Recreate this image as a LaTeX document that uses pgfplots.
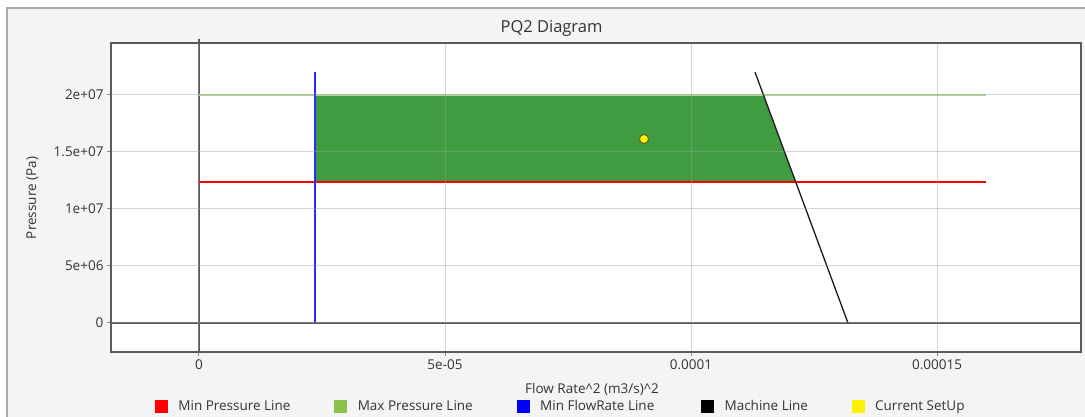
\documentclass[border=0pt]{standalone}
\usepackage{pgfplots}
\pgfplotsset{compat=1.18}
\usepackage{fontspec}
\setmainfont{Open Sans}

\definecolor{txt}{HTML}{333333}
\definecolor{bgcol}{HTML}{F4F4F4}
\definecolor{bordercol}{HTML}{ABABAB}
\definecolor{framecol}{HTML}{5A5A5A}
\definecolor{gridcol}{HTML}{A0A0A0}
\definecolor{tickcol}{HTML}{8A8A8A}
\definecolor{fillgreen}{HTML}{409C40}
\definecolor{maxgreen}{HTML}{8BC34A}
\definecolor{maxline}{HTML}{B4D49A}
\definecolor{minblue}{HTML}{2A2AFF}
\definecolor{machine}{HTML}{1A1A1A}
\definecolor{markedge}{HTML}{5E5E14}

\pgfplotsset{
  sq/.style={legend image code/.code={\fill[#1] (0pt,-6pt) rectangle (12pt,6pt);}},
}

\begin{document}
\begin{tikzpicture}[x=1pt,y=1pt]
\fill[bgcol] (-104,344) rectangle (990,-80);
\draw[bordercol, line width=2pt] (-104,-80) -- (-104,344) -- (990,344);

\begin{axis}[
  at={(0pt,0pt)}, anchor=south west,
  scale only axis, width=970pt, height=309pt,
  axis background/.style={fill=white},
  axis on top,
  xmin=-1.7886e-5, xmax=1.79268e-4,
  ymin=-2.544e6, ymax=2.456e7,
  xtick={0,5e-5,1e-4,1.5e-4},
  xticklabels={0,5e-05,0.0001,0.00015},
  ytick={0,5e6,1e7,1.5e7,2e7},
  yticklabels={0,5e+06,1e+07,1.5e+07,2e+07},
  scaled ticks=false,
  grid=major,
  major grid style={gridcol, opacity=0.45, line width=1pt},
  axis line style={framecol, line width=1.6pt},
  tick align=outside, major tick length=4pt,
  tick style={tickcol, line width=1pt},
  xtick pos=bottom, ytick pos=left,
  tick label style={font=\fontsize{13.5}{16}\selectfont, text=txt},
  legend columns=5,
  legend cell align=left,
  legend style={at={(0.04536,-0.1748)}, anchor=west, draw=none, fill=none,
    inner sep=0pt, outer sep=0pt,
    font=\fontsize{13.5}{16}\selectfont, text=txt,
    nodes={inner sep=0pt, anchor=west},
    /tikz/every odd column/.append style={column sep=11pt},
    /tikz/every even column/.append style={column sep=0pt}},
]
% operating region
\addplot[fill=fillgreen, draw=none, forget plot]
  coordinates {(2.36e-5,1.2368e7) (2.36e-5,2e7) (1.14728e-4,2e7) (1.21285e-4,1.2368e7)} --cycle;

% zero lines
\draw[framecol, line width=1.5pt] (axis cs:0,-2.544e6) -- (axis cs:0,2.456e7);
\draw[framecol, line width=1.5pt] (axis cs:-1.7886e-5,0) -- (axis cs:1.79268e-4,0);

\addplot[color=maxline, line width=1.4pt, forget plot]
  coordinates {(0,2e7) (1.6e-4,2e7)};
\addplot[color=red, line width=1.3pt, forget plot]
  coordinates {(0,1.2368e7) (1.6e-4,1.2368e7)};
\addplot[color=minblue, line width=1.3pt, forget plot]
  coordinates {(2.36e-5,0) (2.36e-5,2.2e7)};
\addplot[color=machine, line width=1.3pt, forget plot]
  coordinates {(1.1301e-4,2.2e7) (1.3191e-4,0)};
\addplot[only marks, mark=*, mark size=4.5pt,
  mark options={fill=yellow, draw=markedge, line width=0.9pt}, forget plot]
  coordinates {(9.045e-5,1.614e7)};

\addlegendimage{sq=red}\addlegendentry{\makebox[156pt][l]{Min Pressure Line}}
\addlegendimage{sq=maxgreen}\addlegendentry{\makebox[159pt][l]{Max Pressure Line}}
\addlegendimage{sq=blue}\addlegendentry{\makebox[161pt][l]{Min FlowRate Line}}
\addlegendimage{sq=black}\addlegendentry{\makebox[127pt][l]{Machine Line}}
\addlegendimage{sq=yellow}\addlegendentry{Current SetUp}
\end{axis}

\draw[framecol, line width=1.5pt] (88,309) -- (88,313);
\node[font=\fontsize{16.5}{20}\selectfont, text=txt] at (440.5,324) {PQ2 Diagram};
\node[font=\fontsize{13.5}{16}\selectfont, text=txt] at (481,-37)
  {Flow Rate\textasciicircum2 (m3/s)\textasciicircum2};
\node[font=\fontsize{13.5}{16}\selectfont, text=txt, rotate=90] at (-78.5,154)
  {Pressure (Pa)};
\pgfresetboundingbox
\path[use as bounding box] (-111,-65) rectangle (974,352);
\end{tikzpicture}
\end{document}
